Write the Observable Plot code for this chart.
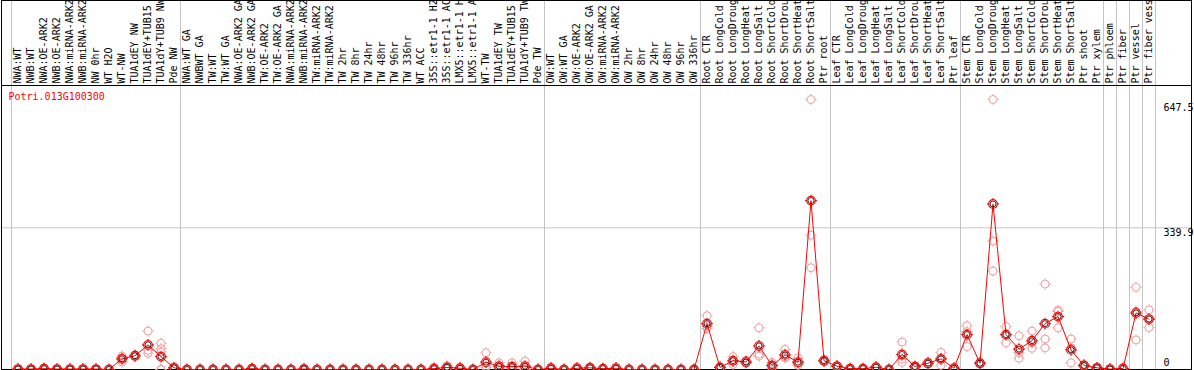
<!DOCTYPE html>
<html><head><meta charset="utf-8">
<script src="https://cdn.jsdelivr.net/npm/d3@7"></script>
<script src="https://cdn.jsdelivr.net/npm/@observablehq/plot@0.6"></script>
<style>body{margin:0;background:#fff} #chart svg{display:block}</style>
</head><body><div id="chart"></div>
<script>
const geneName = "Potri.013G100300";
const labels = [
"NWA:WT","NWB:WT","NWA:OE-ARK2","NWB:OE-ARK2","NWA:miRNA-ARK2","NWB:miRNA-ARK2","NW 0hr","WT H2O","WT-NW","TUA1dEY NW","TUA1dEY+TUB15 NW","TUA1dY+TUB9 NW","Pde NW",
"NWA:WT GA","NWBWT GA","TW:WT","TW:WT GA","NWA:OE-ARK2 GA","NWB:OE-ARK2 GA","TW:OE-ARK2","TW:OE-ARK2 GA","NWA:miRNA-ARK2","NWB:miRNA-ARK2","TW:miRNA-ARK2","TW:miRNA-ARK2","TW 2hr","TW 8hr","TW 24hr","TW 48hr","TW 96hr","TW 336hr","WT ACC","35S::etr1-1 H2O","35S::etr1-1 ACC","LMX5::etr1-1 H2O","LMX5::etr1-1 ACC","WT-TW","TUA1dEY TW","TUA1dEY+TUB15 TW","TUA1dY+TUB9 TW","Pde TW",
"OW:WT","OW:WT GA","OW:OE-ARK2","OW:OE-ARK2 GA","OW:miRNA-ARK2","OW:miRNA-ARK2","OW 2hr","OW 8hr","OW 24hr","OW 48hr","OW 96hr","OW 336hr",
"Root CTR","Root LongCold","Root LongDrought","Root LongHeat","Root LongSalt","Root ShortCold","Root ShortDrought","Root ShortHeat","Root ShortSalt","Ptr root",
"Leaf CTR","Leaf LongCold","Leaf LongDrought","Leaf LongHeat","Leaf LongSalt","Leaf ShortCold","Leaf ShortDrought","Leaf ShortHeat","Leaf ShortSalt","Ptr leaf",
"Stem CTR","Stem LongCold","Stem LongDrought","Stem LongHeat","Stem LongSalt","Stem ShortCold","Stem ShortDrought","Stem ShortHeat","Stem ShortSalt","Ptr shoot","Ptr xylem",
"Ptr phloem","Ptr fiber","Ptr vessel","Ptr fiber vessel"];
const groupSizes = [13,28,12,10,10,11,1,1,1,1];
const means = [
1,1,2,1,1,1,1,0,25.6,33,59,31,4,
0,0,0,0,0,2,0,0,0,1,0,0,0,0,0,0,0,0,0,2,5,3,0,17.5,8,7,8,0,
3,0,3,4,2,3,0,0,0,0,0,0,
110,5,21,18,56.5,9.6,35,17.5,405,21,
8,2,2,5.5,0,36,7,15,25.5,3,
83.6,15,397,83.6,49,69,110,127,47,9.6,4,
1,2.4,135.5,121];
const reps = [
[1,2,0],[1,1,0],[4,1,1],[2,1,0],[1,1,1],[2,1,0],[1,1,1],[0,0,0],[32,27,18],[35,33,31],[92,46,39],[63,50,42,0,0],[5,3,4],
[0,0,0],[0,0,0],[0,0,0],[1,0,0],[0,0,0],[4,1,1],[0,0,0],[0,0,0],[1,0,0],[3,0,0],[0,0,0],[0,0,0],[0,0,0],[0,0,0],[0,0,0],[0,0,0],[0,0,0],[0,0,0],[0,0,0],[5,1,0],[9,4,2],[5,3,1],[0,0,0],[40,8,5],[16,5,3],[16,3,2],[20,4,0],[0,0,0],
[5,3,1],[0,0,0],[5,3,1],[6,4,2],[3,2,1],[5,3,1],[0,0,0],[0,0,0],[0,0,0],[0,0,0],[0,0,0],[0,0,0],
[129,103,98],[6,5,4],[31,12,20],[22,15,17],[100,37,32],[17,10,2],[48,29,28],[28,10,15],[647.5,322,244],[24,20,19],
[9,7,8],[3,2,1],[3,2,1],[7,5,4],[0,0,0],[66,17,25],[9,5,7],[18,14,13],[41,10,26],[4,3,2],
[105,55,91],[17,14,14],[647.5,308,236],[103,64,84],[81,40,27],[92,51,64],[205,73,52],[139,100,142],[73,16,52],[10,12,7],[5,4,3],
[2,1,0],[3,2,2],[197,71,139],[143,121,101]];
const yTicks = [647.5, 339.9, 0];

const idx = d3.range(labels.length);
const boundaries = [-0.5, ...Array.from(d3.cumsum(groupSizes), c => c - 0.5)];
const repPoints = reps.flatMap((r, i) => r.map(v => ({i, v})));
const meanPoints = means.map((v, i) => ({i, v}));

const gear = {draw(ctx, size) {
  const r = Math.sqrt(size / Math.PI), s = 1.6;
  ctx.moveTo(r, 0); ctx.arc(0, 0, r, 0, 2 * Math.PI);
  ctx.moveTo(0, -r); ctx.lineTo(0, -r - s);
  ctx.moveTo(0, r); ctx.lineTo(0, r + s);
  ctx.moveTo(-r, 0); ctx.lineTo(-r - s, 0);
  ctx.moveTo(r, 0); ctx.lineTo(r + s, 0);
}};

const font = "DejaVu Sans Mono";
const chart = Plot.plot({
  width: 1194, height: 370,
  marginTop: 85, marginBottom: 1, marginLeft: 11, marginRight: 39,
  style: {fontFamily: font, fontSize: "10px", background: "#fff"},
  x: {type: "linear", domain: [-0.5, labels.length - 0.5], axis: null},
  y: {domain: [0, 647.5], range: [369, 99], axis: null},
  marks: [
    Plot.ruleY([339.9], {stroke: "#c8c8c8", insetLeft: -10, insetRight: -36}),
    Plot.ruleX(boundaries, {stroke: "#c4c4c4", insetTop: -85}),
    Plot.frame({stroke: "#000", insetLeft: -10, insetRight: -36}),
    Plot.frame({stroke: "#000", insetLeft: -10, insetRight: -36, insetTop: -85}),
    Plot.text(idx, {x: d => d, text: d => labels[d], frameAnchor: "top", rotate: -90, textAnchor: "start", lineAnchor: "middle", dy: -2, fill: "#000", fontSize: 10}),
    Plot.text([geneName], {frameAnchor: "top-left", dx: -3, dy: 7, fill: "red", textAnchor: "start", fontSize: 10}),
    Plot.dot(repPoints, {x: "i", y: "v", r: 4, symbol: gear, stroke: "#f0a0a0", strokeWidth: 1}),
    Plot.line(meanPoints, {x: "i", y: "v", stroke: "red", strokeWidth: 1}),
    Plot.dot(meanPoints, {x: "i", y: "v", r: 4.3, symbol: gear, stroke: "red", strokeWidth: 1.2}),
    Plot.dot(meanPoints, {x: "i", y: "v", r: 3, stroke: "#000", strokeWidth: 0.8}),
    Plot.text([yTicks[0]], {y: d => d, text: d => String(d), frameAnchor: "right", textAnchor: "start", dx: 8, dy: 8, fontSize: 10}),
    Plot.text([yTicks[1]], {y: d => d, text: d => String(d), frameAnchor: "right", textAnchor: "start", dx: 8, dy: 5, fontSize: 10}),
    Plot.text([yTicks[2]], {y: d => d, text: d => String(d), frameAnchor: "right", textAnchor: "start", dx: 8, dy: -7, fontSize: 10})
  ]
});
document.getElementById("chart").append(chart);
</script>
</body></html>
